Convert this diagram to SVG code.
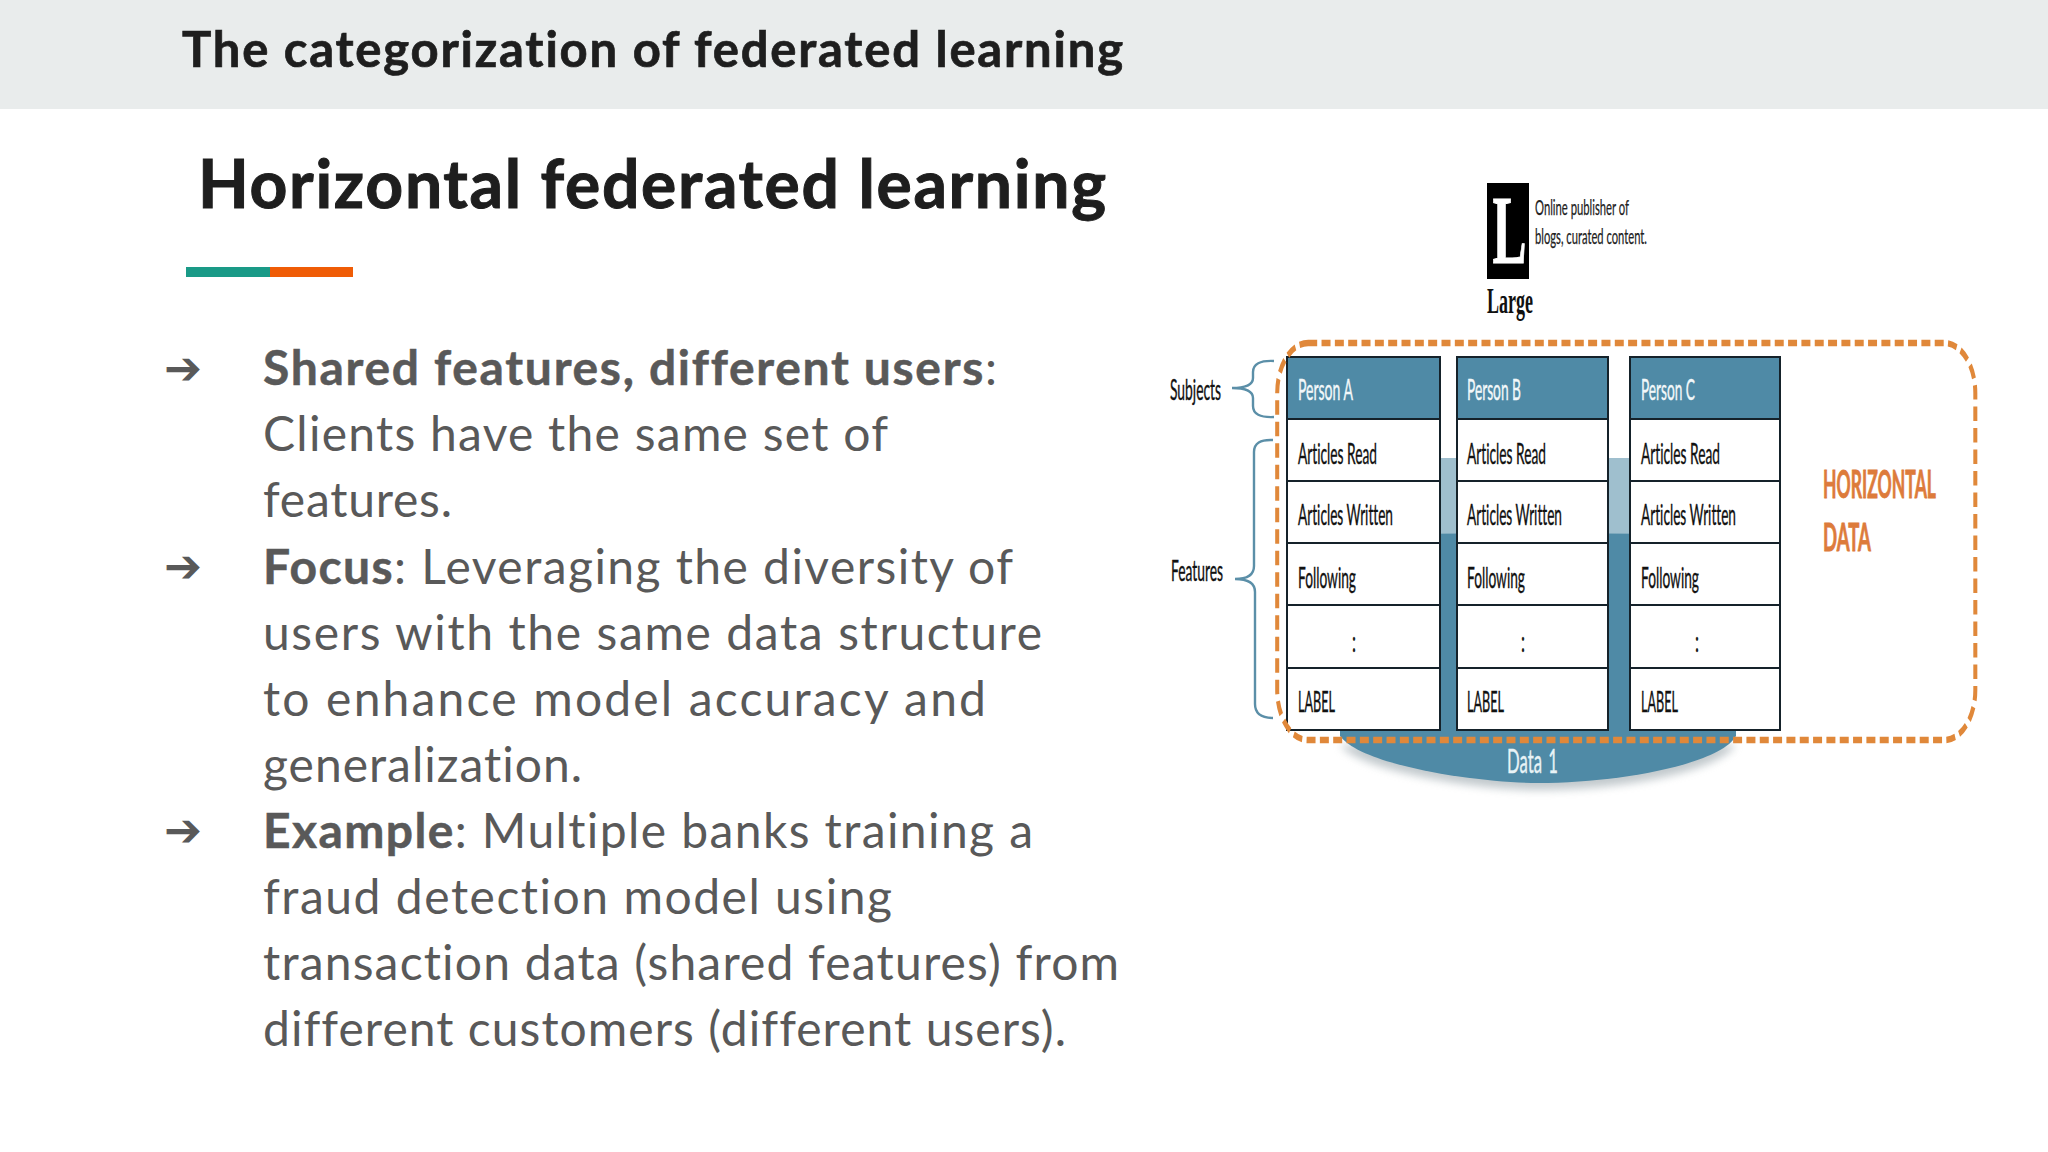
<svg xmlns="http://www.w3.org/2000/svg" width="2048" height="1152" viewBox="0 0 2048 1152">
<style>
text{font-family:"Lato","Open Sans","Liberation Sans",sans-serif;font-variant-ligatures:none}
.title{font-weight:700;font-size:49px;fill:#1e1e1e;stroke:#1e1e1e;stroke-width:.7}
.head{font-weight:700;font-size:66px;fill:#1e1e1e;stroke:#1e1e1e;stroke-width:1}
.body{font-size:48px;fill:#595959}
.body tspan{font-weight:700;stroke:#595959;stroke-width:.5}
.arrow{font-family:"DejaVu Sans",sans-serif;font-size:46px;fill:#595959}
.cell{fill:#fff;stroke:#15222a;stroke-width:2}
.hdr{fill:#4f8aa6;stroke:#15222a;stroke-width:2}
.ct{font-size:28px;fill:#111;stroke:#111;stroke-width:.4}
.ht{font-size:28px;fill:#f2f8fa;stroke:#f2f8fa;stroke-width:.4}
.brace{fill:none;stroke:#5b8fa8;stroke-width:2.4}
.hd{font-size:39px;font-weight:700;fill:#dd7b3b;stroke:#dd7b3b;stroke-width:.9}
</style>
<defs>
<filter id="blur" x="-10%" y="-30%" width="120%" height="160%"><feGaussianBlur stdDeviation="4"/></filter>
</defs>
<rect width="2048" height="1152" fill="#fff"/>
<rect id="header-band" width="2048" height="109" fill="#e9ecec"/>
<text class="title" x="182" y="67" textLength="941" lengthAdjust="spacing">The categorization of federated learning</text>
<text class="head" x="198" y="208" textLength="908" lengthAdjust="spacing">Horizontal federated learning</text>
<rect x="186" y="267" width="84" height="10" fill="#1a9a87"/>
<rect x="270" y="267" width="83" height="10" fill="#ef5c06"/>

<g id="bullets">
<text class="arrow" x="164" y="384" textLength="38" lengthAdjust="spacingAndGlyphs">➔</text>
<text class="arrow" x="164" y="582" textLength="38" lengthAdjust="spacingAndGlyphs">➔</text>
<text class="arrow" x="164" y="846" textLength="38" lengthAdjust="spacingAndGlyphs">➔</text>
<text class="body" x="263" y="385" textLength="734" lengthAdjust="spacing"><tspan>Shared features, different users</tspan>:</text>
<text class="body" x="263" y="451" textLength="625" lengthAdjust="spacing">Clients have the same set of</text>
<text class="body" x="263" y="517" textLength="189" lengthAdjust="spacing">features.</text>
<text class="body" x="263" y="584" textLength="750" lengthAdjust="spacing"><tspan>Focus</tspan>: Leveraging the diversity of</text>
<text class="body" x="263" y="650" textLength="779" lengthAdjust="spacing">users with the same data structure</text>
<text class="body" x="263" y="716" textLength="723" lengthAdjust="spacing">to enhance model accuracy and</text>
<text class="body" x="263" y="782" textLength="319" lengthAdjust="spacing">generalization.</text>
<text class="body" x="263" y="848" textLength="770" lengthAdjust="spacing"><tspan>Example</tspan>: Multiple banks training a</text>
<text class="body" x="263" y="914" textLength="629" lengthAdjust="spacing">fraud detection model using</text>
<text class="body" x="263" y="980" textLength="856" lengthAdjust="spacing">transaction data (shared features) from</text>
<text class="body" x="263" y="1046" textLength="803" lengthAdjust="spacing">different customers (different users).</text>
</g>

<g id="publisher">
<rect x="1487" y="183" width="42" height="96" fill="#000"/>
<text transform="translate(1492.500 263) scale(0.52 1)" style="font-family:'Liberation Serif',serif;font-weight:700;font-size:98px;fill:#fff;stroke:#fff;stroke-width:1">L</text>
<text x="1487" y="313" textLength="46" lengthAdjust="spacingAndGlyphs" style="font-family:'Liberation Serif',serif;font-weight:700;font-size:35px;fill:#111">Large</text>
<text x="1535" y="215" textLength="94" lengthAdjust="spacingAndGlyphs" style="font-size:21px;fill:#222;stroke:#222;stroke-width:.25">Online publisher of</text>
<text x="1535" y="244" textLength="112" lengthAdjust="spacingAndGlyphs" style="font-size:21px;fill:#222;stroke:#222;stroke-width:.25">blogs, curated content.</text>
</g>

<g id="data-disk">
<path d="M1340 745C1362 772 1480 790 1538 790C1622 790 1716 772 1736 745Z" fill="#8f9ca3" opacity=".55" filter="url(#blur)"/>
<rect x="1340" y="458" width="396" height="78" fill="#9fbfce"/>
<path d="M1340 736V536Q1538 530 1736 536V736C1720 764 1620 783 1538 783C1480 783 1362 766 1340 736Z" fill="#4f8aa6"/>
<text x="1507" y="773" textLength="51" lengthAdjust="spacingAndGlyphs" style="font-size:32px;fill:#e8f3f6;stroke:#e8f3f6;stroke-width:.4;word-spacing:4px">Data 1</text>
</g>

<g id="person-a">
<rect class="hdr" x="1287" y="357" width="153" height="62"/>
<rect class="cell" x="1287" y="419" width="153" height="62"/>
<rect class="cell" x="1287" y="481" width="153" height="62"/>
<rect class="cell" x="1287" y="543" width="153" height="62"/>
<rect class="cell" x="1287" y="605" width="153" height="63"/>
<rect class="cell" x="1287" y="668" width="153" height="62"/>
<text class="ht" x="1298" y="400" textLength="55" lengthAdjust="spacingAndGlyphs">Person A</text>
<text class="ct" x="1298" y="464" textLength="79" lengthAdjust="spacingAndGlyphs">Articles Read</text>
<text class="ct" x="1298" y="525" textLength="95" lengthAdjust="spacingAndGlyphs">Articles Written</text>
<text class="ct" x="1298" y="588" textLength="58" lengthAdjust="spacingAndGlyphs">Following</text>
<text class="ct" x="1352" y="652" textLength="4" lengthAdjust="spacingAndGlyphs">:</text>
<text class="ct" x="1298" y="712" textLength="37" lengthAdjust="spacingAndGlyphs">LABEL</text>
</g>
<g id="person-b">
<rect class="hdr" x="1457" y="357" width="151" height="62"/>
<rect class="cell" x="1457" y="419" width="151" height="62"/>
<rect class="cell" x="1457" y="481" width="151" height="62"/>
<rect class="cell" x="1457" y="543" width="151" height="62"/>
<rect class="cell" x="1457" y="605" width="151" height="63"/>
<rect class="cell" x="1457" y="668" width="151" height="62"/>
<text class="ht" x="1467" y="400" textLength="54" lengthAdjust="spacingAndGlyphs">Person B</text>
<text class="ct" x="1467" y="464" textLength="79" lengthAdjust="spacingAndGlyphs">Articles Read</text>
<text class="ct" x="1467" y="525" textLength="95" lengthAdjust="spacingAndGlyphs">Articles Written</text>
<text class="ct" x="1467" y="588" textLength="58" lengthAdjust="spacingAndGlyphs">Following</text>
<text class="ct" x="1521" y="652" textLength="4" lengthAdjust="spacingAndGlyphs">:</text>
<text class="ct" x="1467" y="712" textLength="37" lengthAdjust="spacingAndGlyphs">LABEL</text>
</g>
<g id="person-c">
<rect class="hdr" x="1630" y="357" width="150" height="62"/>
<rect class="cell" x="1630" y="419" width="150" height="62"/>
<rect class="cell" x="1630" y="481" width="150" height="62"/>
<rect class="cell" x="1630" y="543" width="150" height="62"/>
<rect class="cell" x="1630" y="605" width="150" height="63"/>
<rect class="cell" x="1630" y="668" width="150" height="62"/>
<text class="ht" x="1641" y="400" textLength="54" lengthAdjust="spacingAndGlyphs">Person C</text>
<text class="ct" x="1641" y="464" textLength="79" lengthAdjust="spacingAndGlyphs">Articles Read</text>
<text class="ct" x="1641" y="525" textLength="95" lengthAdjust="spacingAndGlyphs">Articles Written</text>
<text class="ct" x="1641" y="588" textLength="58" lengthAdjust="spacingAndGlyphs">Following</text>
<text class="ct" x="1695" y="652" textLength="4" lengthAdjust="spacingAndGlyphs">:</text>
<text class="ct" x="1641" y="712" textLength="37" lengthAdjust="spacingAndGlyphs">LABEL</text>
</g>

<g id="horizontal-data">
<rect transform="scale(0.62 1)" x="2060" y="343" width="1126" height="397" rx="50" ry="50" fill="none" stroke="#e0883a" stroke-width="6.500" stroke-dasharray="14.500 7"/>
<text class="hd" x="1823" y="498" textLength="113" lengthAdjust="spacingAndGlyphs">HORIZONTAL</text>
<text class="hd" x="1823" y="551" textLength="48" lengthAdjust="spacingAndGlyphs">DATA</text>
</g>

<g id="subjects">
<text class="ct" x="1170" y="400" textLength="51" lengthAdjust="spacingAndGlyphs">Subjects</text>
</g>
<g id="features">
<text class="ct" x="1171" y="581" textLength="52" lengthAdjust="spacingAndGlyphs">Features</text>
</g>
<g id="connectors">
<path class="brace" d="M1274 361Q1253 360 1253 372V378Q1253 388 1232 388Q1253 388 1253 398V406Q1253 418 1274 417"/>
<path class="brace" d="M1273 440Q1254 439 1254 452V566Q1254 579 1235 579Q1255 579 1255 592V704Q1255 718 1273 718"/>
</g>
</svg>
